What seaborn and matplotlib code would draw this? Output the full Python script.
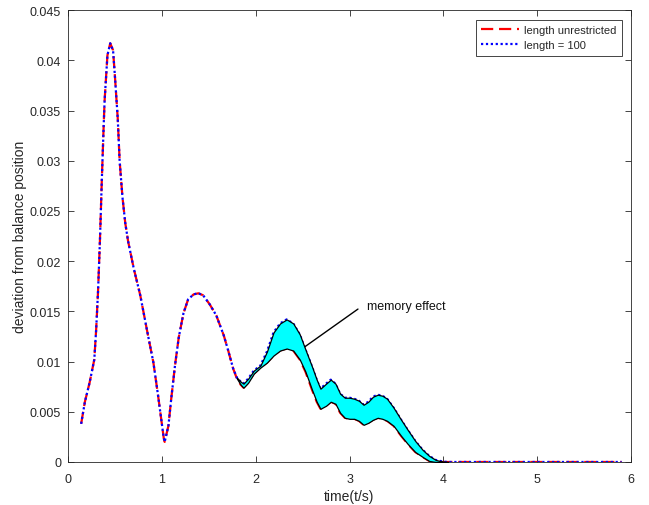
import numpy as np
import pandas as pd
import matplotlib
matplotlib.use("Agg")
import matplotlib.pyplot as plt
import seaborn as sns

# time axis (s)
time = [0.14, 0.18, 0.23, 0.28, 0.30, 0.32, 0.34, 0.36, 0.38, 0.39, 0.42, 0.45,
        0.48, 0.50, 0.53, 0.55, 0.58, 0.61, 0.64, 0.70, 0.77, 0.84, 0.91, 0.96,
        1.02, 1.03, 1.07, 1.10, 1.14, 1.18, 1.23, 1.28, 1.34, 1.39, 1.44, 1.51,
        1.58, 1.66, 1.71, 1.76, 1.80, 1.84, 1.87, 1.92, 1.98, 2.05, 2.12, 2.19,
        2.26, 2.33, 2.40, 2.47, 2.53, 2.60, 2.65, 2.69, 2.75, 2.80, 2.85, 2.90,
        2.95, 3.00, 3.05, 3.10, 3.15, 3.20, 3.25, 3.30, 3.35, 3.40, 3.47, 3.55,
        3.62, 3.70, 3.78, 3.85, 3.92, 4.00, 4.05, 4.50, 5.00, 5.50, 5.90]

# deviation with unrestricted memory length
dev_unrestricted = [
    0.0038, 0.0060, 0.0079, 0.0102, 0.0132, 0.0170, 0.0220, 0.0280, 0.0335, 0.0360,
    0.0405, 0.0417, 0.0410, 0.0384, 0.0342, 0.0300, 0.0264, 0.0238, 0.0220, 0.0193,
    0.0166, 0.0132, 0.0099, 0.0066, 0.0024, 0.0020, 0.0036, 0.0063, 0.0096, 0.0124,
    0.0148, 0.0162, 0.0167, 0.0168, 0.0166, 0.0157, 0.0146, 0.0126, 0.0110, 0.0093,
    0.0083, 0.0077, 0.0074, 0.0079, 0.0088, 0.0094, 0.0099, 0.0106, 0.0111, 0.0113,
    0.0111, 0.0102, 0.0090, 0.0072, 0.0060, 0.0053, 0.0056, 0.0060, 0.0058, 0.0049,
    0.0044, 0.0043, 0.0043, 0.0041, 0.0037, 0.0039, 0.0042, 0.0044, 0.0043, 0.0041,
    0.0036, 0.0026, 0.0018, 0.0010, 0.0005, 0.0001, 0.0000, 0.0000, 0.0000, 0.0000,
    0.0000, 0.0000, 0.0000]

# deviation with memory length = 100
dev_len100 = [
    0.0038, 0.0060, 0.0079, 0.0102, 0.0132, 0.0170, 0.0220, 0.0280, 0.0335, 0.0360,
    0.0405, 0.0417, 0.0410, 0.0384, 0.0342, 0.0300, 0.0264, 0.0238, 0.0220, 0.0193,
    0.0166, 0.0132, 0.0099, 0.0066, 0.0024, 0.0020, 0.0036, 0.0063, 0.0096, 0.0124,
    0.0148, 0.0162, 0.0167, 0.0168, 0.0166, 0.0157, 0.0146, 0.0126, 0.0110, 0.0093,
    0.0084, 0.0080, 0.0078, 0.0083, 0.0091, 0.0096, 0.0110, 0.0129, 0.0138, 0.0142,
    0.0138, 0.0127, 0.0112, 0.0095, 0.0082, 0.0073, 0.0078, 0.0082, 0.0078, 0.0068,
    0.0064, 0.0064, 0.0063, 0.0061, 0.0057, 0.0060, 0.0065, 0.0067, 0.0066, 0.0063,
    0.0054, 0.0042, 0.0032, 0.0021, 0.0012, 0.0006, 0.0002, 0.00003, 0.0000, 0.0000,
    0.0000, 0.0000, 0.0000]

x_ticks = [0, 1, 2, 3, 4, 5, 6]
y_ticks = [0, 0.005, 0.01, 0.015, 0.02, 0.025, 0.03, 0.035, 0.04, 0.045]
y_tick_labels = ["0", "0.005", "0.01", "0.015", "0.02", "0.025", "0.03", "0.035", "0.04", "0.045"]

sns.set_theme(style="white")
plt.rcParams["font.family"] = ["Liberation Sans", "DejaVu Sans"]

df = pd.DataFrame({"t": time, "unrestricted": dev_unrestricted, "len100": dev_len100})

fig = plt.figure(figsize=(6.49, 5.06), dpi=100)
ax = fig.add_axes([0.1048, 0.085, 0.8675, 0.893])

sns.lineplot(data=df, x="t", y="unrestricted", ax=ax, color="#ff0000", lw=1.6,
             linestyle="--", sort=False, label="length unrestricted", zorder=2)
ax.lines[-1].set_dashes([5.5, 2.6])
sns.lineplot(data=df, x="t", y="len100", ax=ax, color="#0000ff", lw=1.6,
             linestyle=":", sort=False, label="length = 100", zorder=3)
ax.lines[-1].set_dashes([1.0, 1.2])

# shaded gap between the two responses
t_arr = np.asarray(time)
mask = (t_arr >= 1.80) & (t_arr <= 4.05)
ax.fill_between(t_arr[mask], np.asarray(dev_unrestricted)[mask],
                np.asarray(dev_len100)[mask], facecolor="#00ffff",
                edgecolor="black", linewidth=0.9, zorder=4)

ax.annotate("", xy=(2.49, 0.01125), xytext=(3.09, 0.01523),
            arrowprops=dict(arrowstyle="-", color="black", lw=1.0,
                            shrinkA=0, shrinkB=0))
ax.text(3.19, 0.01556, "memory effect", fontsize=9, va="center", ha="left",
        color="#111111")

ax.set_xlim(0, 6)
ax.set_ylim(0, 0.045)
ax.set_xticks(x_ticks)
ax.set_yticks(y_ticks)
ax.set_yticklabels(y_tick_labels)
ax.set_xlabel("time(t/s)", fontsize=10, color="#262626", labelpad=3)
ax.set_ylabel("deviation from balance position", fontsize=10, color="#262626",
              labelpad=2)

for side in ["left", "right", "top", "bottom"]:
    ax.spines[side].set_visible(True)
    ax.spines[side].set_color("#262626")
    ax.spines[side].set_linewidth(0.6)
ax.tick_params(axis="both", which="major", direction="in", length=4, width=0.6,
               color="#262626", labelsize=9, labelcolor="#262626",
               top=True, right=True, left=True, bottom=True)
ax.tick_params(axis="x", pad=8)
ax.tick_params(axis="y", pad=5)

leg = ax.legend(loc="upper right", fontsize=8, frameon=True, fancybox=False,
                edgecolor="#262626", framealpha=1, handlelength=3.4,
                handletextpad=0.4, borderpad=0.5, labelspacing=0.45,
                borderaxespad=0.85)
leg.get_frame().set_linewidth(0.6)

fig.savefig("out.png", dpi=100, facecolor="white")
